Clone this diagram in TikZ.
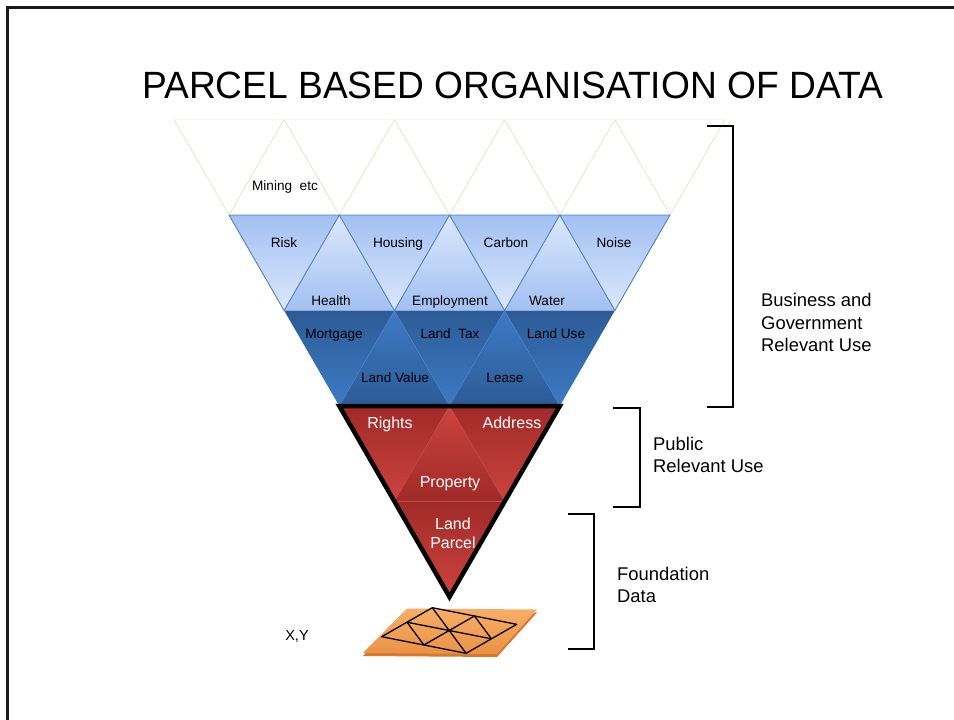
\documentclass[tikz,border=0pt]{standalone}
\usepackage{fontspec}
\setmainfont{Liberation Sans}
\usetikzlibrary{calc}
\definecolor{faintc}{HTML}{E8E5CF}
\definecolor{lbA}{HTML}{A2C0F2}
\definecolor{lbB}{HTML}{DCE8FC}
\definecolor{lbE}{HTML}{4F81BD}
\definecolor{dbA}{HTML}{2C5B96}
\definecolor{dbB}{HTML}{3C7BC6}
\definecolor{dbE}{HTML}{4A82C8}
\definecolor{rdA}{HTML}{A02A28}
\definecolor{rdB}{HTML}{CC433F}
\definecolor{rdE}{HTML}{BE4A47}
\definecolor{orA}{HTML}{F8AE66}
\definecolor{orB}{HTML}{E99246}
\definecolor{orD}{HTML}{D9782C}
\begin{document}
\begin{tikzpicture}[x=1pt,y=-1pt,
  lbl/.style={font=\fontsize{13.6}{16}\selectfont, text=black, inner sep=0pt, anchor=base},
  rlbl/.style={font=\fontsize{16}{19}\selectfont, text=white, inner sep=0pt, anchor=base},
  sidelbl/.style={font=\fontsize{18.4}{22.5}\selectfont, align=left, inner sep=0pt, anchor=base west},
  faint/.style={draw=faintc, line width=0.8pt, line join=round},
  ldown/.style={top color=lbA, bottom color=lbB},
  lup/.style={top color=lbB, bottom color=lbA},
  ddown/.style={top color=dbA, bottom color=dbB},
  dup/.style={top color=dbB, bottom color=dbA},
  rdown/.style={top color=rdA, bottom color=rdB},
  rup/.style={top color=rdB, bottom color=rdA},
  brk/.style={draw=black, line width=2pt, line join=miter},
  grid/.style={draw=black, line width=1.3pt, line join=round}
]
\useasboundingbox (0,0) rectangle (954,720);
\fill[white] (0,0) rectangle (954,720);
% frame
\draw[line width=2.5pt, draw=black!90] (7.5,720) -- (7.5,7.5) -- (954,7.5);

% row boundary points
\coordinate (a0) at (173.9,119.5); \coordinate (a1) at (284.1,119.5);
\coordinate (a2) at (394.4,119.5); \coordinate (a3) at (504.6,119.5);
\coordinate (a4) at (614.9,119.5); \coordinate (a5) at (725.1,119.5);
\coordinate (b0) at (229.0,215); \coordinate (b1) at (339.3,215);
\coordinate (b2) at (449.5,215); \coordinate (b3) at (559.8,215);
\coordinate (b4) at (670.0,215);
\coordinate (c0) at (284.1,310.5); \coordinate (c1) at (394.4,310.5);
\coordinate (c2) at (504.6,310.5); \coordinate (c3) at (614.9,310.5);
\coordinate (d0) at (339.3,406); \coordinate (d1) at (449.5,406);
\coordinate (d2) at (559.8,406);
\coordinate (e0) at (394.4,501.4); \coordinate (e1) at (504.6,501.4);
\coordinate (f0) at (449.5,596.9);

% faint top row
\draw[faint] (a0) -- (b0) -- (a1) -- (b1) -- (a2) -- (b2) -- (a3) -- (b3) -- (a4) -- (b4) -- (a5);
\draw[draw=faintc!35, line width=0.6pt] (a0) -- (a5);

% light blue row
\shade[ldown] (b0) -- (b1) -- (c0) -- cycle;
\shade[ldown] (b1) -- (b2) -- (c1) -- cycle;
\shade[ldown] (b2) -- (b3) -- (c2) -- cycle;
\shade[ldown] (b3) -- (b4) -- (c3) -- cycle;
\shade[lup] (c0) -- (c1) -- (b1) -- cycle;
\shade[lup] (c1) -- (c2) -- (b2) -- cycle;
\shade[lup] (c2) -- (c3) -- (b3) -- cycle;
\draw[draw=lbE, line width=0.9pt, line join=round] (b0) -- (b4) -- (c3) -- (b3) -- (c2) -- (b2) -- (c1) -- (b1) -- (c0) -- cycle;

% dark blue row
\shade[ddown] (c0) -- (c1) -- (d0) -- cycle;
\shade[ddown] (c1) -- (c2) -- (d1) -- cycle;
\shade[ddown] (c2) -- (c3) -- (d2) -- cycle;
\shade[dup] (d0) -- (d1) -- (c1) -- cycle;
\shade[dup] (d1) -- (d2) -- (c2) -- cycle;
\draw[draw=dbE, line width=0.4pt] (d0) -- (c1) -- (d1) -- (c2) -- (d2);

% red rows
\shade[rdown] (d0) -- (d1) -- (e0) -- cycle;
\shade[rdown] (d1) -- (d2) -- (e1) -- cycle;
\shade[rup] (e0) -- (e1) -- (d1) -- cycle;
\shade[rdown] (e0) -- (e1) -- (f0) -- cycle;
\draw[draw=rdE, line width=0.5pt] (e0) -- (d1) -- (e1) -- cycle;
\draw[line width=4.5pt, line join=miter] (d0) -- (d2) -- (f0) -- cycle;

% labels
\node[lbl] (mining) at (285,190) {Mining\ \ etc};
\node[lbl] (risk) at (284,247) {Risk};
\node[lbl] (housing) at (398,247) {Housing};
\node[lbl] (carbon) at (506,247) {Carbon};
\node[lbl] (noise) at (614,247) {Noise};
\node[lbl] (health) at (331,305) {Health};
\node[lbl] (employment) at (450,305) {Employment};
\node[lbl] (water) at (547,305) {Water};
\node[lbl] (mortgage) at (334,338) {Mortgage};
\node[lbl] (landtax) at (450,338) {Land\ \ Tax};
\node[lbl] (landuse) at (556,338) {Land Use};
\node[lbl] (landvalue) at (395,382) {Land Value};
\node[lbl] (lease) at (505,382) {Lease};
\node[rlbl] (rights) at (390,428) {Rights};
\node[rlbl] (address) at (512,428) {Address};
\node[rlbl] (property) at (450,487) {Property};
\node[rlbl, align=center, font=\fontsize{16}{19}\selectfont] (parcel) at (453,548) {Land\\Parcel};

% title
\node[inner sep=0pt, anchor=base] (title) at (512.5,98.5) {\scalebox{0.978}[1]{\fontsize{38}{44}\selectfont PARCEL BASED ORGANISATION OF DATA}};

% brackets
\draw[brk] (707,126) -- (733,126) -- (733,407) -- (707,407);
\draw[brk] (613,408) -- (640,408) -- (640,507) -- (613,507);
\draw[brk] (568,514) -- (594,514) -- (594,649) -- (568,649);

\node[sidelbl] (bizgov) at (761,351.5) {Business and\\Government\\Relevant Use};
\node[sidelbl] (public) at (653,472.5) {Public\\Relevant Use};
\node[sidelbl] (found) at (617,602.5) {Foundation\\Data};

% parcel plate
\fill[orD] (407,611.5) -- (537,612.5) -- (497,657) -- (363,656) -- cycle;
\shade[top color=orA, bottom color=orB] (407,608.5) -- (537,609.5) -- (497,654) -- (363,653) -- cycle;
\coordinate (pA) at (432.3,607.7);
\coordinate (pB) at (516.7,624.3);
\coordinate (pC) at (466.1,653.3);
\coordinate (pD) at (381.7,636.7);
\coordinate (pE) at ($(pA)!0.5!(pD)$);
\coordinate (pF) at ($(pA)!0.5!(pB)$);
\coordinate (pG) at ($(pB)!0.5!(pC)$);
\coordinate (pH) at ($(pD)!0.5!(pC)$);
\draw[grid] (pA) -- (pB) -- (pC) -- (pD) -- cycle;
\draw[grid] (pE) -- (pG) (pF) -- (pH) (pA) -- (pC) (pE) -- (pH) (pF) -- (pG);

\node[inner sep=0pt, anchor=base, font=\fontsize{14.5}{17}\selectfont] (xy) at (297,640.5) {X,Y};
\end{tikzpicture}
\end{document}
